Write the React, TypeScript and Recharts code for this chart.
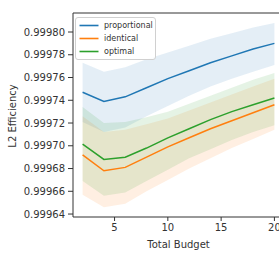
import React from 'react';
import { ComposedChart, Line, Area, XAxis, YAxis, ReferenceLine } from 'recharts';

const budgets = [2, 4, 6, 8, 10, 12, 14, 16, 18, 20];

const proportionalMean = [0.999747, 0.999739, 0.999743, 0.999751, 0.999759, 0.999766, 0.999773, 0.999779, 0.999785, 0.99979];
const proportionalLower = [0.999721, 0.999712, 0.999716, 0.999726, 0.999735, 0.999744, 0.999752, 0.999759, 0.999765, 0.999771];
const proportionalUpper = [0.999773, 0.999765, 0.999769, 0.999776, 0.999782, 0.999788, 0.999794, 0.999799, 0.999804, 0.999808];

const identicalMean = [0.999692, 0.999678, 0.999681, 0.99969, 0.999699, 0.999707, 0.999715, 0.999722, 0.999729, 0.999736];
const identicalLower = [0.999657, 0.999646, 0.999649, 0.99966, 0.99967, 0.99968, 0.999689, 0.999698, 0.999706, 0.999714];
const identicalUpper = [0.999726, 0.999712, 0.999714, 0.999719, 0.999724, 0.999731, 0.999738, 0.999745, 0.999752, 0.999759];

const optimalMean = [0.9997015, 0.999688, 0.99969, 0.999698, 0.999707, 0.999715, 0.999723, 0.99973, 0.999736, 0.999742];
const optimalLower = [0.999669, 0.999656, 0.999659, 0.999669, 0.999679, 0.999689, 0.999697, 0.999705, 0.999712, 0.999718];
const optimalUpper = [0.999734, 0.99972, 0.999721, 0.999725, 0.99973, 0.999737, 0.999744, 0.999751, 0.999758, 0.999764];

const yTicks = [0.99964, 0.99966, 0.99968, 0.9997, 0.99972, 0.99974, 0.99976, 0.99978, 0.9998];
const xTicks = [5, 10, 15, 20];
const xDomain = [1.1, 20.9];
const yDomain = [0.9996374, 0.9998167];

const seriesNames = ['proportional', 'identical', 'optimal'];
const colors = ['#1f77b4', '#ff7f0e', '#2ca02c'];

const data = budgets.map((b, i) => ({
  budget: b,
  proportional: proportionalMean[i],
  proportionalBand: [proportionalLower[i], proportionalUpper[i]],
  identical: identicalMean[i],
  identicalBand: [identicalLower[i], identicalUpper[i]],
  optimal: optimalMean[i],
  optimalBand: [optimalLower[i], optimalUpper[i]],
}));

const FONT = "'DejaVu Sans', sans-serif";
const TXT = '#333333';

const YLabel = () => (
  <text x={12.5} y={116} transform="rotate(-90 12.5 116)" textAnchor="middle" dominantBaseline="central"
    fontSize={10} fill={TXT} fontFamily={FONT}>L2 Efficiency</text>
);

export default function App() {
  return (
    <div style={{ position: 'absolute', left: 0, top: 0, width: 279, height: 265, overflow: 'hidden', background: '#fff', fontFamily: FONT }}>
      <ComposedChart width={290} height={265} data={data} margin={{ top: 13, right: 6, bottom: 0, left: 0 }}>
        {seriesNames.map((s, i) => (
          <Area key={s + 'band'} type="linear" dataKey={s + 'Band'} stroke="none" fill={colors[i]} fillOpacity={0.12}
            isAnimationActive={false} legendType="none" activeDot={false} />
        ))}
        {seriesNames.map((s, i) => (
          <Line key={s} type="linear" dataKey={s} stroke={colors[i]} strokeWidth={1.5} dot={false}
            isAnimationActive={false} activeDot={false} />
        ))}
        <ReferenceLine y={yDomain[1]} stroke={TXT} strokeWidth={1} ifOverflow="visible" />
        <XAxis type="number" dataKey="budget" domain={xDomain} ticks={xTicks} allowDataOverflow height={48}
          tickSize={4} tickMargin={3} stroke={TXT} tickLine={{ stroke: TXT }}
          tick={{ fill: TXT, fontSize: 10, fontFamily: FONT }}
          label={{ value: 'Total Budget', position: 'insideBottom', offset: 17, fill: TXT, fontSize: 10, fontFamily: FONT }} />
        <YAxis type="number" domain={yDomain} ticks={yTicks} allowDataOverflow width={73}
          tickSize={5} tickMargin={3} stroke={TXT} tickLine={{ stroke: TXT }}
          tick={{ fill: TXT, fontSize: 10, fontFamily: FONT }}
          tickFormatter={(v: number) => v.toFixed(5)}
          label={<YLabel />} />
      </ComposedChart>
      <div style={{ position: 'absolute', left: 75, top: 17, width: 81, height: 43, border: '1px solid #d0d0d0', borderRadius: 3,
        background: 'rgba(255,255,255,0.85)', boxSizing: 'border-box', paddingTop: 0.5 }}>
        {seriesNames.map((s, i) => (
          <div key={s} style={{ height: 13, display: 'flex', alignItems: 'center' }}>
            <svg width={28} height={13} style={{ flex: 'none' }}>
              <line x1={3.5} x2={22.5} y1={6.5} y2={6.5} stroke={colors[i]} strokeWidth={1.6} />
            </svg>
            <span style={{ fontSize: 8, color: TXT, lineHeight: '13px', marginLeft: 0 }}>{s}</span>
          </div>
        ))}
      </div>
    </div>
  );
}
